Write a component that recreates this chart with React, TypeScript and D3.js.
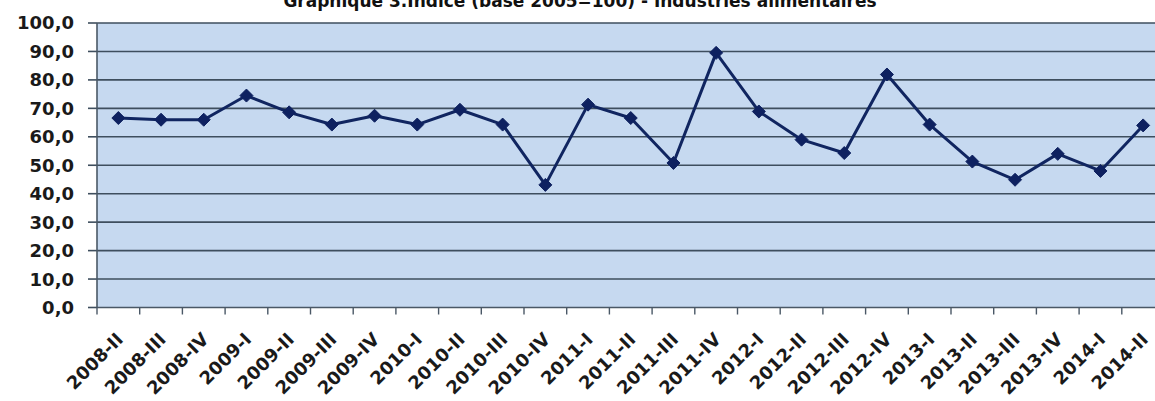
import * as d3 from 'd3';

const categories = [
  '2008-II', '2008-III', '2008-IV',
  '2009-I', '2009-II', '2009-III', '2009-IV',
  '2010-I', '2010-II', '2010-III', '2010-IV',
  '2011-I', '2011-II', '2011-III', '2011-IV',
  '2012-I', '2012-II', '2012-III', '2012-IV',
  '2013-I', '2013-II', '2013-III', '2013-IV',
  '2014-I', '2014-II',
];

const indice = [
  66.6, 66.0, 66.0,
  74.5, 68.6, 64.3, 67.4,
  64.3, 69.5, 64.3, 43.1,
  71.3, 66.6, 50.8, 89.5,
  68.9, 59.0, 54.3, 81.9,
  64.3, 51.3, 44.9, 54.0,
  48.0, 64.0,
];

const yTicks = [0, 10, 20, 30, 40, 50, 60, 70, 80, 90, 100];

const title = 'Graphique 3.Indice (base 2005=100) - Industries alimentaires';

const App = () => {
  const width = 1155;
  const height = 401;
  const margin = { top: 23, left: 97, bottom: 94 };
  const plotRight = margin.left + 25 * 42.7;

  const x = d3.scaleBand().domain(categories).range([margin.left, plotRight]);
  const y = d3.scaleLinear().domain([0, 100]).range([height - margin.bottom + 0.5, margin.top]);

  const cx = (c: string) => x(c)! + x.bandwidth() / 2;

  const line = d3
    .line<number>()
    .x((_, i) => cx(categories[i]))
    .y((d) => y(d));

  const font = '"DejaVu Sans", Verdana, sans-serif';
  const y0 = y(0);

  return (
    <svg width={width} height={height} style={{ position: 'absolute', left: 0, top: 0, background: '#fff' }}>
      {/* titre coupé en haut */}
      <text x={580} y={7} textAnchor="middle" fontFamily={font} fontWeight="bold" fontSize={17} fill="#111">
        {title}
      </text>

      <rect x={margin.left} y={y(100)} width={plotRight - margin.left} height={y0 - y(100)} fill="#c6d9f0" />

      {/* grille + étiquettes Y */}
      {yTicks.map((t) => (
        <g key={t}>
          {t > 0 && (
            <line x1={margin.left} x2={plotRight} y1={y(t)} y2={y(t)} stroke="#3e4e5e" strokeWidth={1.6} />
          )}
          <line x1={margin.left - 9} x2={margin.left} y1={y(t)} y2={y(t)} stroke="#3e4e5e" strokeWidth={1.6} />
          <text
            x={74}
            y={y(t)}
            dy="0.36em"
            textAnchor="end"
            fontFamily={font}
            fontWeight="bold"
            fontSize={18}
            fill="#1a1a1a"
          >
            {d3.format('.1f')(t).replace('.', ',')}
          </text>
        </g>
      ))}

      {/* axes */}
      <line x1={margin.left} x2={margin.left} y1={y(100)} y2={y0} stroke="#4a5866" strokeWidth={1.6} />
      <line x1={margin.left} x2={plotRight} y1={y0} y2={y0} stroke="#4a5866" strokeWidth={1.6} />
      {categories.map((c) => (
        <line key={'t' + c} x1={x(c)!} x2={x(c)!} y1={y0} y2={y0 + 7} stroke="#4a5866" strokeWidth={1.4} />
      ))}
      {categories.map((c) => (
        <text
          key={'l' + c}
          transform={`translate(${cx(c) + 6},${y0 + 33}) rotate(-45)`}
          textAnchor="end"
          fontFamily={font}
          fontWeight="bold"
          fontSize={18}
          fill="#1a1a1a"
        >
          {c}
        </text>
      ))}

      {/* série */}
      <path d={line(indice)!} fill="none" stroke="#102560" strokeWidth={3} strokeLinejoin="round" />
      {indice.map((v, i) => {
        const px = cx(categories[i]);
        const py = y(v);
        const r = 6.5;
        return (
          <path
            key={'m' + i}
            d={`M${px},${py - r}L${px + r},${py}L${px},${py + r}L${px - r},${py}Z`}
            fill="#0e2160"
            stroke="#0e2160"
            strokeWidth={1}
          />
        );
      })}
    </svg>
  );
};

export default App;
